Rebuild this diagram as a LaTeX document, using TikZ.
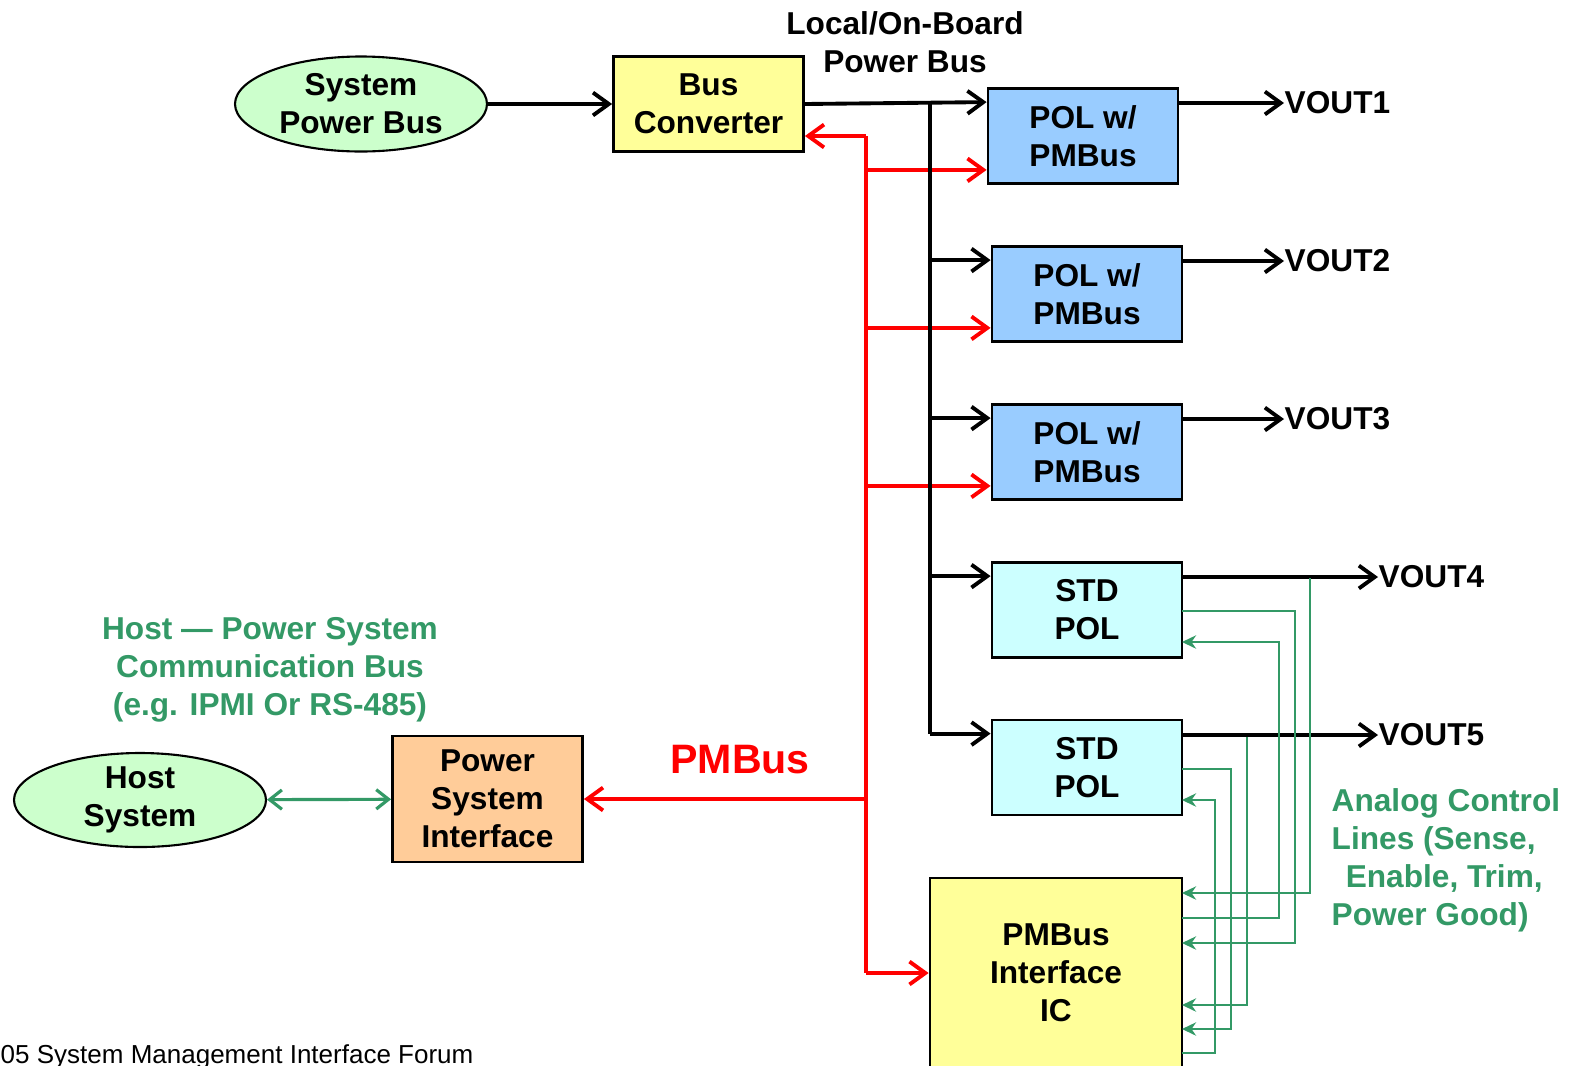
\documentclass[tikz,border=0pt]{standalone}
\usepackage{fontspec}
\setmainfont{Liberation Sans}
\usetikzlibrary{shapes.geometric,arrows.meta}
\definecolor{lgreen}{RGB}{204,255,204}
\definecolor{lyellow}{RGB}{255,255,153}
\definecolor{lblue}{RGB}{153,204,255}
\definecolor{lcyan}{RGB}{204,255,255}
\definecolor{lorange}{RGB}{255,204,153}
\definecolor{dgreen}{RGB}{51,153,102}
\newcommand{\bfont}{\fontsize{9}{10.8}\selectfont\bfseries}
\tikzset{
  blk/.style={draw,line width=0.8pt,minimum width=1.9cm,minimum height=0.95cm,
    inner sep=0pt,align=center,font=\bfont},
  oval/.style={ellipse,draw,fill=lgreen,line width=0.6pt,minimum width=2.52cm,
    minimum height=0.95cm,inner sep=0pt,align=center,font=\bfont},
  lbl/.style={inner sep=0pt,font=\bfont},
  pwr/.style={line width=1.1pt,>={Straight Barb[length=4.5pt,width=6.5pt]}},
  pmb/.style={red,line width=1.1pt,>={Straight Barb[length=4.5pt,width=6.5pt]}},
  sig/.style={dgreen,line width=0.6pt,>={Stealth[length=4pt,width=3.8pt]}}
}
\begin{document}
\begin{tikzpicture}
  \useasboundingbox (0,0) rectangle (15.71,-10.65);

  \node at (3.61,-1.04) [oval] (spb) {System\\Power Bus};
  \node at (7.085,-1.04) [blk,fill=lyellow] (bc) {Bus\\Converter};
  \node at (9.05,-0.42) [lbl,align=center] (lbus) {Local/On-Board\\Power Bus};

  \node at (10.83,-1.36) [blk,fill=lblue] (pol1) {POL w/\\PMBus};
  \node at (10.87,-2.94) [blk,fill=lblue] (pol2) {POL w/\\PMBus};
  \node at (10.87,-4.52) [blk,fill=lblue] (pol3) {POL w/\\PMBus};
  \node at (10.87,-6.10) [blk,fill=lcyan] (std1) {STD\\POL};
  \node at (10.87,-7.675) [blk,fill=lcyan] (std2) {STD\\POL};
  \node at (10.56,-9.73) [blk,fill=lyellow,minimum width=2.52cm,minimum height=1.9cm] (ic) {PMBus\\Interface\\IC};

  \node at (12.84,-1.03) [lbl,anchor=west] (v1) {VOUT1};
  \node at (12.84,-2.61) [lbl,anchor=west] (v2) {VOUT2};
  \node at (12.84,-4.19) [lbl,anchor=west] (v3) {VOUT3};
  \node at (13.78,-5.77) [lbl,anchor=west] (v4) {VOUT4};
  \node at (13.78,-7.35) [lbl,anchor=west] (v5) {VOUT5};

  \node at (1.40,-8.00) [oval,minimum height=0.94cm] (hs) {Host\\System};
  \node at (4.875,-7.99) [blk,fill=lorange,minimum height=1.26cm] (psi) {Power\\System\\Interface};
  \node at (2.70,-6.70) [lbl,align=center,text=dgreen] (hbus) {Host — Power System\\Communication Bus\\(e.g. IPMI Or RS-485)};
  \node at (7.40,-7.60) [inner sep=0pt,red,font=\fontsize{11.7}{14}\selectfont\bfseries] (pmlbl) {PMBus};
  \node at (13.31,-8.60) [lbl,anchor=west,align=left,text=dgreen] (acl) {Analog Control\\Lines (Sense,\\\ \,Enable, Trim,\\Power Good)};
  \node at (0,-10.63) [anchor=base west,inner sep=0pt,font=\fontsize{7.4}{9}\selectfont] (foot) {05 System Management Interface Forum};

  % bus taps
  \coordinate (kb) at (9.30,-1.04);
  \coordinate (kr) at (8.66,-1.36);
  \foreach \n in {pol1,pol2,pol3,std1,std2} {
    \coordinate (\n-p) at ([yshift=-1.5mm]\n.north west);
    \coordinate (\n-s) at ([yshift=1.5mm]\n.south west);
  }

  % analog ports
  \coordinate (s1o) at (11.82,-6.11);
  \coordinate (s1i) at (11.82,-6.42);
  \coordinate (s2o) at (11.82,-7.69);
  \coordinate (s2i) at (11.82,-8.00);
  \coordinate (t4) at (13.10,-5.78);
  \coordinate (t5) at (12.47,-7.37);
  \coordinate (ic1) at (11.82,-8.93);
  \coordinate (ic2) at (11.82,-9.18);
  \coordinate (ic3) at (11.82,-9.43);
  \coordinate (ic4) at (11.82,-10.05);
  \coordinate (ic5) at (11.82,-10.29);
  \coordinate (ic6) at (11.82,-10.53);

  % PMBus
  \draw[pmb,->] (kr) -- (bc.east |- kr);
  \draw[pmb] (kr) -- (kr |- ic.west);
  \draw[pmb,->] (kr |- ic.west) -- (ic.west);
  \draw[pmb,->] (kr |- psi) -- (psi.east);
  \foreach \n in {pol1,pol2,pol3}
    \draw[pmb,->] (\n-s -| kr) -- (\n-s);

  % power
  \draw[pwr,->] (spb) -- (bc);
  \draw[pwr,->] (bc.east) -- (pol1-p);
  \draw[pwr] (kb) -- (std2-p -| kb);
  \foreach \n in {pol2,pol3,std1,std2}
    \draw[pwr,->] (\n-p -| kb) -- (\n-p);
  \draw[pwr,->] (v1.west -| pol1.east) -- (v1.west);
  \draw[pwr,->] (v2.west -| pol2.east) -- (v2.west);
  \draw[pwr,->] (v3.west -| pol3.east) -- (v3.west);
  \draw[pwr,->] (v4.west -| std1.east) -- (v4.west);
  \draw[pwr,->] (v5.west -| std2.east) -- (v5.west);

  % analog lines
  \draw[sig,->] (t4) |- (ic1);
  \draw[sig,->] (s1o) -- ++(1.13,0) |- (ic3);
  \draw[sig,->] (ic2) -- ++(0.97,0) |- (s1i);
  \draw[sig,->] (t5) |- (ic4);
  \draw[sig,->] (s2o) -- ++(0.49,0) |- (ic5);
  \draw[sig,->] (ic6) -- ++(0.33,0) |- (s2i);

  \draw[dgreen,line width=0.9pt,<->,>={Straight Barb[length=3.5pt,width=5.5pt]}] (hs) -- (psi);
\end{tikzpicture}
\end{document}
